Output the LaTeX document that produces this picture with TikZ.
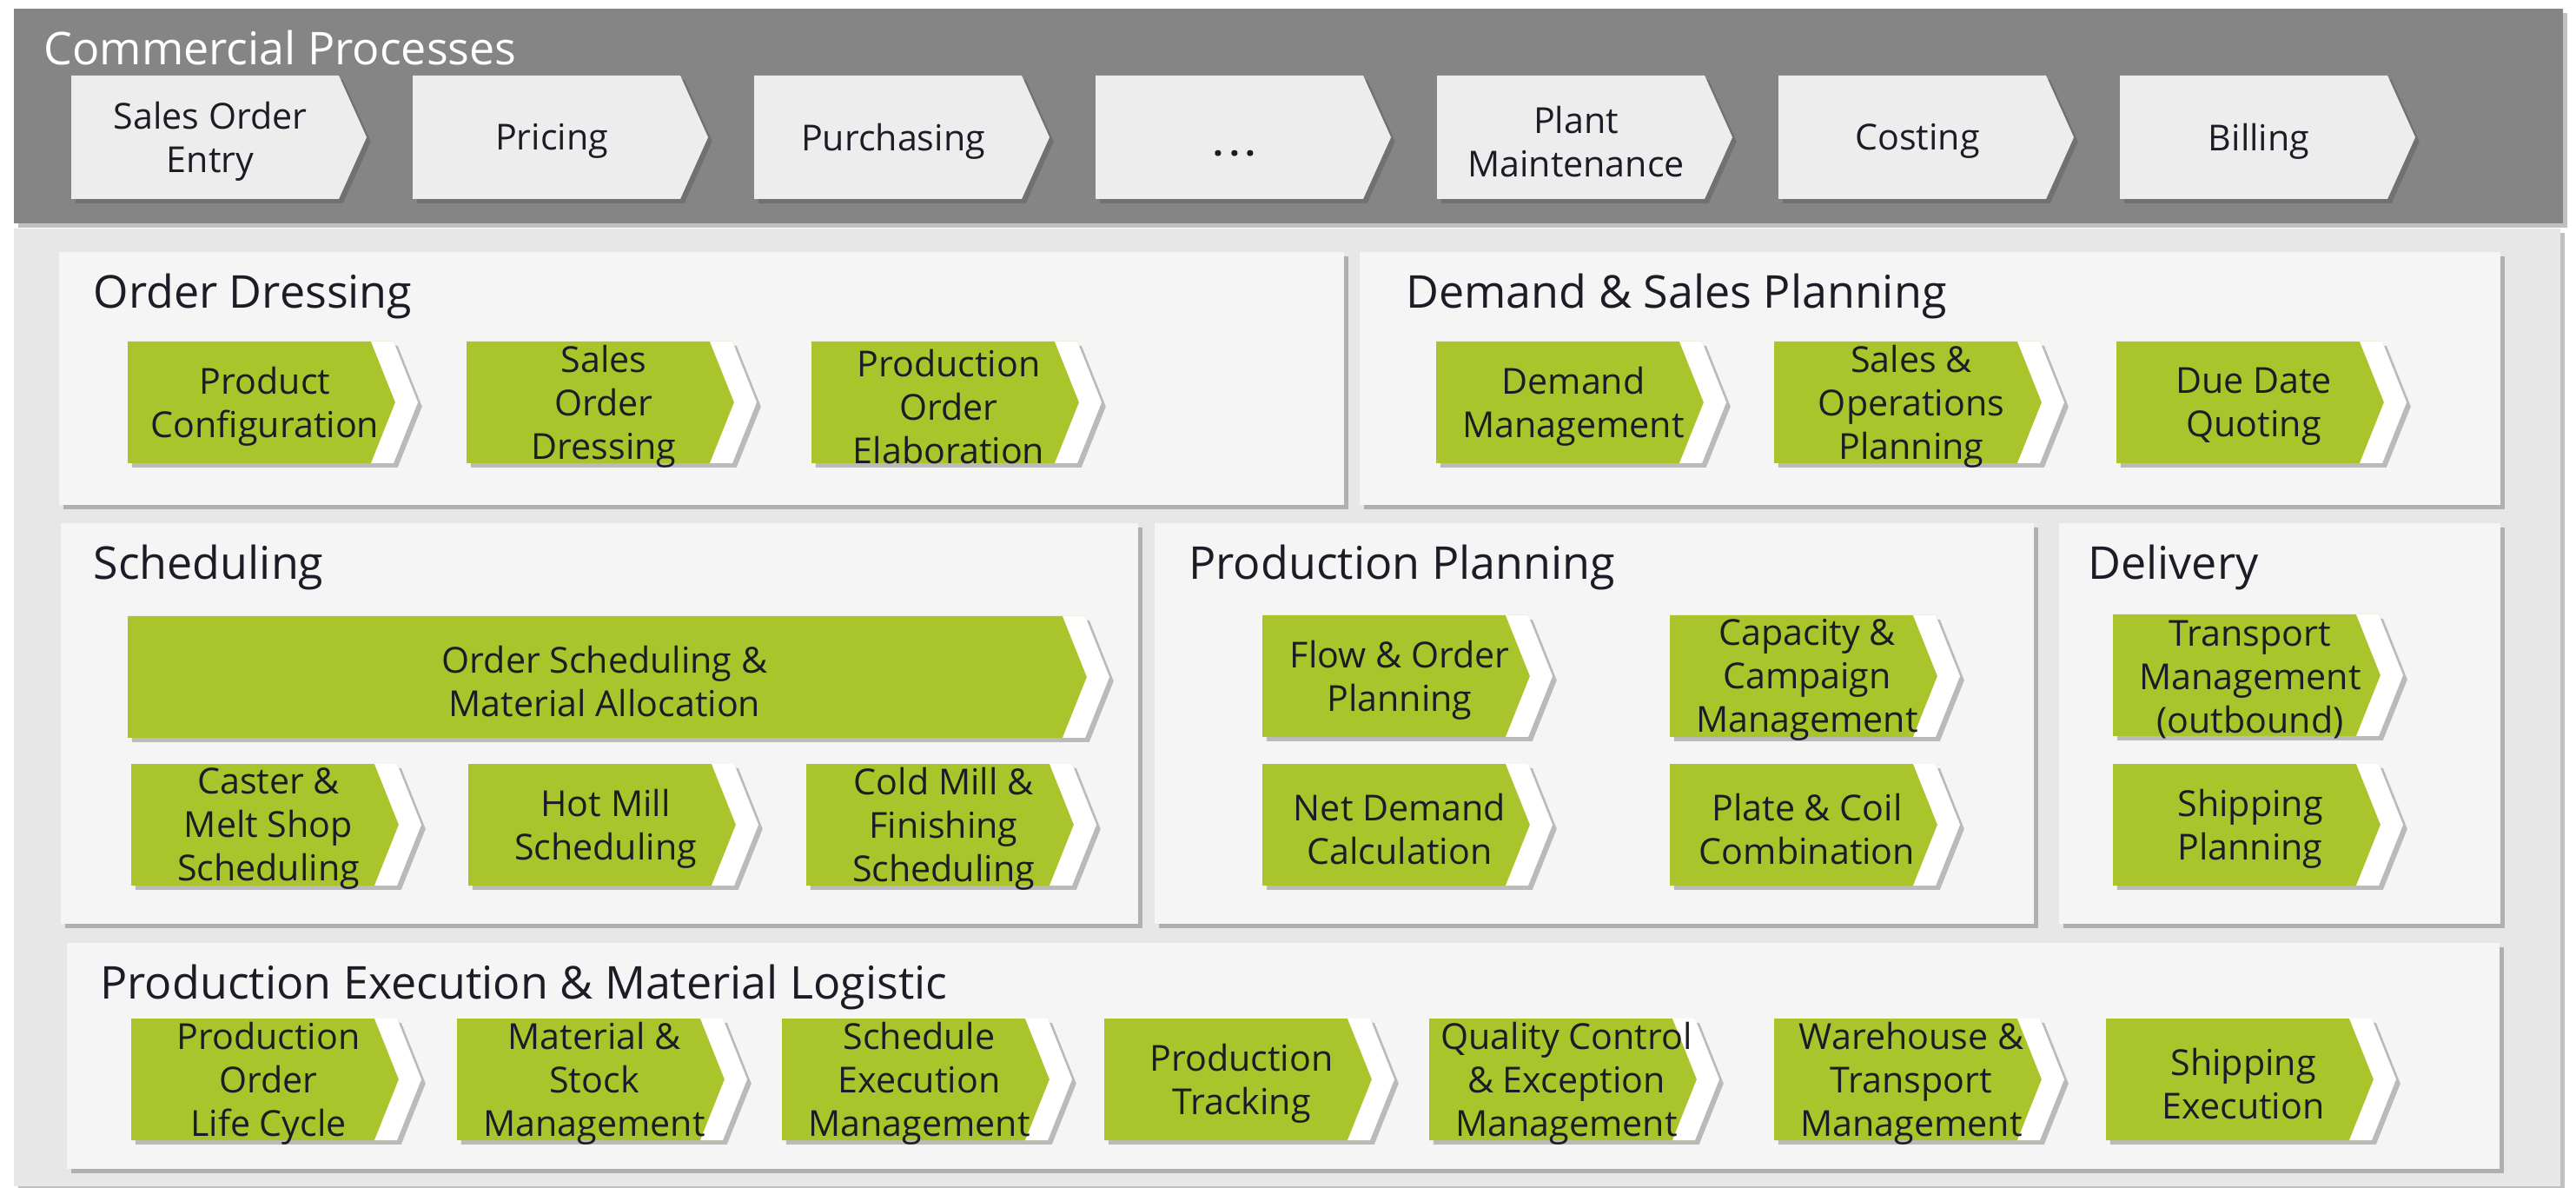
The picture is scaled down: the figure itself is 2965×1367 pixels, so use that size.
\documentclass[tikz,border=0pt]{standalone}
\usepackage{fontspec}
\setmainfont{Open Sans}
\usetikzlibrary{shadows}

\definecolor{cBar}{RGB}{133,133,133}
\definecolor{cBack}{RGB}{231,231,231}
\definecolor{cPanel}{RGB}{245,245,245}
\definecolor{cStep}{RGB}{237,237,237}
\definecolor{cGreen}{RGB}{170,197,44}
\definecolor{cText}{RGB}{28,28,38}

\tikzset{every picture/.style={line width=0.75pt}}
\tikzset{
  softshadow/.style={drop shadow={shadow xshift=1.2pt, shadow yshift=-1.2pt, opacity=0.35, fill=black!70}},
  panel/.style={fill=cPanel, softshadow},
  graystep/.style={fill=cStep, softshadow},
  greenstep/.style={fill=cGreen, softshadow},
  gap/.style={fill=white},
  paneltitle/.style={anchor=base west, inner sep=0pt, text=cText, font=\fontsize{13}{16}\selectfont},
  steplabel/.style={align=center, inner sep=0pt, yshift=-1.2pt, text=cText, font=\fontsize{10.3}{12.5}\selectfont},
}

\begin{document}
\begin{tikzpicture}[x=0.25pt,y=0.25pt,yscale=-1,xscale=1]
  \useasboundingbox (0,0) rectangle (2965,1367);
  \fill [white] (0,0) rectangle (2965,1367);

  %Shape: Rectangle [id:commercial]
  \path [fill=cBar, softshadow] (16,10) rectangle (2950,257) ;
  %Shape: Rectangle [id:back]
  \path [fill=cBack, softshadow] (16,263) rectangle (2947,1365) ;

  %Shape: Rectangle [id:orderdressing]
  \path [panel] (68,290) rectangle (1547,581) ;
  %Shape: Rectangle [id:demandsales]
  \path [panel] (1565,290) rectangle (2878,581) ;
  %Shape: Rectangle [id:scheduling]
  \path [panel] (70,602) rectangle (1310,1063) ;
  %Shape: Rectangle [id:prodplanning]
  \path [panel] (1329,602) rectangle (2341,1063) ;
  %Shape: Rectangle [id:delivery]
  \path [panel] (2370,602) rectangle (2878,1063) ;
  %Shape: Rectangle [id:execution]
  \path [panel] (77,1085) rectangle (2877,1345) ;

  %Shape: Chevrons [id:commercial row]
  \path [graystep] (82,87) -- ++(308,0) -- ++(32,71) -- ++(-32,71) -- ++(-308,0) -- cycle ;
  \path [graystep] (475,87) -- ++(308,0) -- ++(32,71) -- ++(-32,71) -- ++(-308,0) -- cycle ;
  \path [graystep] (868,87) -- ++(308,0) -- ++(32,71) -- ++(-32,71) -- ++(-308,0) -- cycle ;
  \path [graystep] (1261,87) -- ++(308,0) -- ++(32,71) -- ++(-32,71) -- ++(-308,0) -- cycle ;
  \path [graystep] (1654,87) -- ++(308,0) -- ++(32,71) -- ++(-32,71) -- ++(-308,0) -- cycle ;
  \path [graystep] (2047,87) -- ++(308,0) -- ++(32,71) -- ++(-32,71) -- ++(-308,0) -- cycle ;
  \path [graystep] (2440,87) -- ++(308,0) -- ++(32,71) -- ++(-32,71) -- ++(-308,0) -- cycle ;

  %Shape: Chevrons [id:order dressing row]
  \path [greenstep] (147,393) -- ++(306,0) -- ++(28,70) -- ++(-28,70) -- ++(-306,0) -- cycle ;
  \path [gap] (427,393) -- ++(26,0) -- ++(28,70) -- ++(-28,70) -- ++(-26,0) -- ++(28,-70) -- cycle ;
  \path [greenstep] (537,393) -- ++(306,0) -- ++(28,70) -- ++(-28,70) -- ++(-306,0) -- cycle ;
  \path [gap] (817,393) -- ++(26,0) -- ++(28,70) -- ++(-28,70) -- ++(-26,0) -- ++(28,-70) -- cycle ;
  \path [greenstep] (934,393) -- ++(306,0) -- ++(28,70) -- ++(-28,70) -- ++(-306,0) -- cycle ;
  \path [gap] (1214,393) -- ++(26,0) -- ++(28,70) -- ++(-28,70) -- ++(-26,0) -- ++(28,-70) -- cycle ;

  %Shape: Chevrons [id:demand sales row]
  \path [greenstep] (1653,393) -- ++(306,0) -- ++(28,70) -- ++(-28,70) -- ++(-306,0) -- cycle ;
  \path [gap] (1933,393) -- ++(26,0) -- ++(28,70) -- ++(-28,70) -- ++(-26,0) -- ++(28,-70) -- cycle ;
  \path [greenstep] (2042,393) -- ++(306,0) -- ++(28,70) -- ++(-28,70) -- ++(-306,0) -- cycle ;
  \path [gap] (2322,393) -- ++(26,0) -- ++(28,70) -- ++(-28,70) -- ++(-26,0) -- ++(28,-70) -- cycle ;
  \path [greenstep] (2436,393) -- ++(306,0) -- ++(28,70) -- ++(-28,70) -- ++(-306,0) -- cycle ;
  \path [gap] (2716,393) -- ++(26,0) -- ++(28,70) -- ++(-28,70) -- ++(-26,0) -- ++(28,-70) -- cycle ;

  %Shape: Chevrons [id:scheduling rows]
  \path [greenstep] (147,709) -- ++(1102,0) -- ++(28,70) -- ++(-28,70) -- ++(-1102,0) -- cycle ;
  \path [gap] (1223,709) -- ++(26,0) -- ++(28,70) -- ++(-28,70) -- ++(-26,0) -- ++(28,-70) -- cycle ;
  \path [greenstep] (151,879) -- ++(306,0) -- ++(28,70) -- ++(-28,70) -- ++(-306,0) -- cycle ;
  \path [gap] (431,879) -- ++(26,0) -- ++(28,70) -- ++(-28,70) -- ++(-26,0) -- ++(28,-70) -- cycle ;
  \path [greenstep] (539,879) -- ++(306,0) -- ++(28,70) -- ++(-28,70) -- ++(-306,0) -- cycle ;
  \path [gap] (819,879) -- ++(26,0) -- ++(28,70) -- ++(-28,70) -- ++(-26,0) -- ++(28,-70) -- cycle ;
  \path [greenstep] (928,879) -- ++(306,0) -- ++(28,70) -- ++(-28,70) -- ++(-306,0) -- cycle ;
  \path [gap] (1208,879) -- ++(26,0) -- ++(28,70) -- ++(-28,70) -- ++(-26,0) -- ++(28,-70) -- cycle ;

  %Shape: Chevrons [id:production planning]
  \path [greenstep] (1453,708) -- ++(306,0) -- ++(28,70) -- ++(-28,70) -- ++(-306,0) -- cycle ;
  \path [gap] (1733,708) -- ++(26,0) -- ++(28,70) -- ++(-28,70) -- ++(-26,0) -- ++(28,-70) -- cycle ;
  \path [greenstep] (1922,708) -- ++(306,0) -- ++(28,70) -- ++(-28,70) -- ++(-306,0) -- cycle ;
  \path [gap] (2202,708) -- ++(26,0) -- ++(28,70) -- ++(-28,70) -- ++(-26,0) -- ++(28,-70) -- cycle ;
  \path [greenstep] (1453,879) -- ++(306,0) -- ++(28,70) -- ++(-28,70) -- ++(-306,0) -- cycle ;
  \path [gap] (1733,879) -- ++(26,0) -- ++(28,70) -- ++(-28,70) -- ++(-26,0) -- ++(28,-70) -- cycle ;
  \path [greenstep] (1922,879) -- ++(306,0) -- ++(28,70) -- ++(-28,70) -- ++(-306,0) -- cycle ;
  \path [gap] (2202,879) -- ++(26,0) -- ++(28,70) -- ++(-28,70) -- ++(-26,0) -- ++(28,-70) -- cycle ;

  %Shape: Chevrons [id:delivery]
  \path [greenstep] (2432,707) -- ++(306,0) -- ++(28,70) -- ++(-28,70) -- ++(-306,0) -- cycle ;
  \path [gap] (2712,707) -- ++(26,0) -- ++(28,70) -- ++(-28,70) -- ++(-26,0) -- ++(28,-70) -- cycle ;
  \path [greenstep] (2432,879) -- ++(306,0) -- ++(28,70) -- ++(-28,70) -- ++(-306,0) -- cycle ;
  \path [gap] (2712,879) -- ++(26,0) -- ++(28,70) -- ++(-28,70) -- ++(-26,0) -- ++(28,-70) -- cycle ;

  %Shape: Chevrons [id:execution row]
  \path [greenstep] (151,1172) -- ++(306,0) -- ++(28,70) -- ++(-28,70) -- ++(-306,0) -- cycle ;
  \path [gap] (431,1172) -- ++(26,0) -- ++(28,70) -- ++(-28,70) -- ++(-26,0) -- ++(28,-70) -- cycle ;
  \path [greenstep] (526,1172) -- ++(306,0) -- ++(28,70) -- ++(-28,70) -- ++(-306,0) -- cycle ;
  \path [gap] (806,1172) -- ++(26,0) -- ++(28,70) -- ++(-28,70) -- ++(-26,0) -- ++(28,-70) -- cycle ;
  \path [greenstep] (900,1172) -- ++(306,0) -- ++(28,70) -- ++(-28,70) -- ++(-306,0) -- cycle ;
  \path [gap] (1180,1172) -- ++(26,0) -- ++(28,70) -- ++(-28,70) -- ++(-26,0) -- ++(28,-70) -- cycle ;
  \path [greenstep] (1271,1172) -- ++(306,0) -- ++(28,70) -- ++(-28,70) -- ++(-306,0) -- cycle ;
  \path [gap] (1551,1172) -- ++(26,0) -- ++(28,70) -- ++(-28,70) -- ++(-26,0) -- ++(28,-70) -- cycle ;
  \path [greenstep] (1645,1172) -- ++(306,0) -- ++(28,70) -- ++(-28,70) -- ++(-306,0) -- cycle ;
  \path [gap] (1925,1172) -- ++(26,0) -- ++(28,70) -- ++(-28,70) -- ++(-26,0) -- ++(28,-70) -- cycle ;
  \path [greenstep] (2042,1172) -- ++(306,0) -- ++(28,70) -- ++(-28,70) -- ++(-306,0) -- cycle ;
  \path [gap] (2322,1172) -- ++(26,0) -- ++(28,70) -- ++(-28,70) -- ++(-26,0) -- ++(28,-70) -- cycle ;
  \path [greenstep] (2424,1172) -- ++(306,0) -- ++(28,70) -- ++(-28,70) -- ++(-306,0) -- cycle ;
  \path [gap] (2704,1172) -- ++(26,0) -- ++(28,70) -- ++(-28,70) -- ++(-26,0) -- ++(28,-70) -- cycle ;

  % Text Node
  \node [paneltitle, text=white] (tcommercial) at (49,75) {Commercial Processes};
  % Text Node
  \node [paneltitle] (torder) at (106,355) {Order Dressing};
  % Text Node
  \node [paneltitle] (tdemand) at (1617,355) {Demand \& Sales Planning};
  % Text Node
  \node [paneltitle] (tsched) at (106,667) {Scheduling};
  % Text Node
  \node [paneltitle] (tplan) at (1367,667) {Production Planning};
  % Text Node
  \node [paneltitle] (tdeliv) at (2402,667) {Delivery};
  % Text Node
  \node [paneltitle] (texec) at (114,1149) {Production Execution \& Material Logistic};

  % Text Node
  \node [steplabel] (salesentry) at (242,158) {Sales Order\\Entry};
  % Text Node
  \node [steplabel] (pricing) at (635,158) {Pricing};
  % Text Node
  \node [steplabel] (purchasing) at (1028,158) {Purchasing};
  % Text Node
  \node [steplabel, anchor=base, yshift=1.2pt, font=\fontsize{10.3}{12.5}\selectfont\bfseries] (more) at (1421,180) {.\hspace{1.6pt}.\hspace{1.6pt}.};
  % Text Node
  \node [steplabel] (maint) at (1814,158) {Plant\\Maintenance};
  % Text Node
  \node [steplabel] (costing) at (2207,158) {Costing};
  % Text Node
  \node [steplabel] (billing) at (2600,158) {Billing};

  % Text Node
  \node [steplabel] (prodconf) at (305,463) {Product\\Configuration};
  % Text Node
  \node [steplabel] (salesdress) at (695,463) {Sales\\Order\\Dressing};
  % Text Node
  \node [steplabel] (elab) at (1092,463) {Production\\Order\\Elaboration};
  % Text Node
  \node [steplabel] (demandmgmt) at (1811,463) {Demand\\Management};
  % Text Node
  \node [steplabel] (sop) at (2200,463) {Sales \&\\Operations\\Planning};
  % Text Node
  \node [steplabel] (duedate) at (2594,463) {Due Date\\Quoting};

  % Text Node
  \node [steplabel] (alloc) at (696,779) {Order Scheduling \&\\Material Allocation};
  % Text Node
  \node [steplabel] (caster) at (309,949) {Caster \&\\Melt Shop\\Scheduling};
  % Text Node
  \node [steplabel] (hotmill) at (697,949) {Hot Mill\\Scheduling};
  % Text Node
  \node [steplabel] (coldmill) at (1086,949) {Cold Mill \&\\Finishing\\Scheduling};

  % Text Node
  \node [steplabel] (flow) at (1611,778) {Flow \& Order\\Planning};
  % Text Node
  \node [steplabel] (capacity) at (2080,778) {Capacity \&\\Campaign\\Management};
  % Text Node
  \node [steplabel] (netdemand) at (1611,949) {Net Demand\\Calculation};
  % Text Node
  \node [steplabel] (platecoil) at (2080,949) {Plate \& Coil\\Combination};

  % Text Node
  \node [steplabel] (transport) at (2590,777) {Transport\\Management\\(outbound)};
  % Text Node
  \node [steplabel] (shipplan) at (2590,949) {Shipping\\Planning};

  % Text Node
  \node [steplabel] (lifecycle) at (309,1242) {Production\\Order\\Life Cycle};
  % Text Node
  \node [steplabel] (stock) at (684,1242) {Material \&\\Stock\\Management};
  % Text Node
  \node [steplabel] (schedexec) at (1058,1242) {Schedule\\Execution\\Management};
  % Text Node
  \node [steplabel] (tracking) at (1429,1242) {Production\\Tracking};
  % Text Node
  \node [steplabel] (quality) at (1803,1242) {Quality Control\\\& Exception\\Management};
  % Text Node
  \node [steplabel] (warehouse) at (2200,1242) {Warehouse \&\\Transport\\Management};
  % Text Node
  \node [steplabel] (shipexec) at (2582,1242) {Shipping\\Execution};

\end{tikzpicture}
\end{document}
